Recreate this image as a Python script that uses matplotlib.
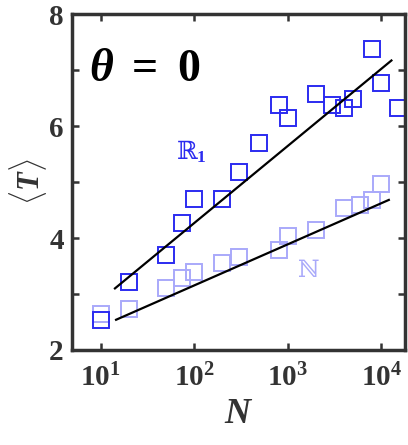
import numpy as np
import matplotlib
matplotlib.use('Agg')
import matplotlib.pyplot as plt
from matplotlib.ticker import FixedLocator, LogLocator, NullFormatter, FuncFormatter

plt.rcParams['font.family'] = ['Liberation Serif', 'DejaVu Serif']
plt.rcParams['font.weight'] = 'bold'
plt.rcParams['mathtext.fontset'] = 'custom'
plt.rcParams['mathtext.rm'] = 'Liberation Serif:bold'
plt.rcParams['mathtext.it'] = 'Liberation Serif:italic:bold'
plt.rcParams['mathtext.bf'] = 'Liberation Serif:bold'

# R1 series
n_r1 = [10, 20, 50, 75, 100, 200, 300, 500, 800, 1000, 2000, 3000, 4000, 5000, 8000, 10000, 15000]
t_r1 = [2.53, 3.22, 3.70, 4.26, 4.69, 4.69, 5.17, 5.70, 6.38, 6.15, 6.57, 6.38, 6.32, 6.49, 7.37, 6.77, 6.32]
# N series
n_nat = [10, 20, 50, 75, 100, 200, 300, 800, 1000, 2000, 4000, 6000, 8000, 10000]
t_nat = [2.64, 2.74, 3.10, 3.28, 3.40, 3.56, 3.66, 3.79, 4.04, 4.14, 4.53, 4.59, 4.68, 4.96]
# fit line end points
fit_r1_n = [14.2, 12900]
fit_r1_t = [3.10, 7.17]
fit_nat_n = [14.6, 12100]
fit_nat_t = [2.54, 4.68]

dark = '#2b2bf0'
light = '#a9a9fa'

fig = plt.figure(figsize=(4.08, 4.45), dpi=100)
ax = fig.add_axes([0.1765, 0.2135, 0.816, 0.755])

ax.plot(n_nat, t_nat, 's', ms=11.5, mfc='none', mec=light, mew=1.4)
ax.plot(n_r1, t_r1, 's', ms=11.5, mfc='none', mec=dark, mew=1.4)
ax.plot(fit_r1_n, fit_r1_t, '-', color='black', lw=1.6)
ax.plot(fit_nat_n, fit_nat_t, '-', color='black', lw=1.6)

ax.set_xscale('log')
ax.set_xlim(4.93, 18000)
ax.set_ylim(2, 8)

ax.xaxis.set_major_locator(FixedLocator([10, 100, 1000, 10000]))
ax.xaxis.set_major_formatter(FuncFormatter(lambda v, p: r'$10^{%d}$' % round(np.log10(v))))
ax.xaxis.set_minor_locator(LogLocator(base=10, subs=np.arange(2, 10)))
ax.xaxis.set_minor_formatter(NullFormatter())
ax.yaxis.set_major_locator(FixedLocator([2, 4, 6, 8]))
ax.yaxis.set_minor_locator(FixedLocator([3, 5, 7]))

ax.tick_params(which='both', direction='in', top=True, right=True, colors='#333333',
               labelcolor='#333333', labelsize=21, width=1.8)
ax.tick_params(which='major', length=5)
ax.tick_params(which='minor', length=5)
ax.tick_params(axis='x', which='minor', length=3, width=1.2)
ax.tick_params(axis='x', pad=10)
ax.tick_params(axis='y', pad=6)
for s in ax.spines.values():
    s.set_linewidth(2.5)
    s.set_color('#333333')

ax.set_xlabel(r'$N$', fontsize=26, color='#333333', labelpad=4)
ax.set_ylabel(r'$\langle T\rangle$', fontsize=22, color='#333333', labelpad=0)

ax.text(0.05, 0.80, r'$\theta\ =\ 0$', transform=ax.transAxes, fontsize=33, color='black')
ax.text(0.36, 0.59, 'ℝ$_\\mathbf{1}$', transform=ax.transAxes, fontsize=18,
        color=dark, ha='center', va='center', family=['DejaVu Serif'], weight='normal')
ax.text(0.71, 0.238, 'ℕ', transform=ax.transAxes, fontsize=17,
        color=light, ha='center', va='center', family=['DejaVu Serif'], weight='normal')

fig.savefig('out.png', dpi=100)
